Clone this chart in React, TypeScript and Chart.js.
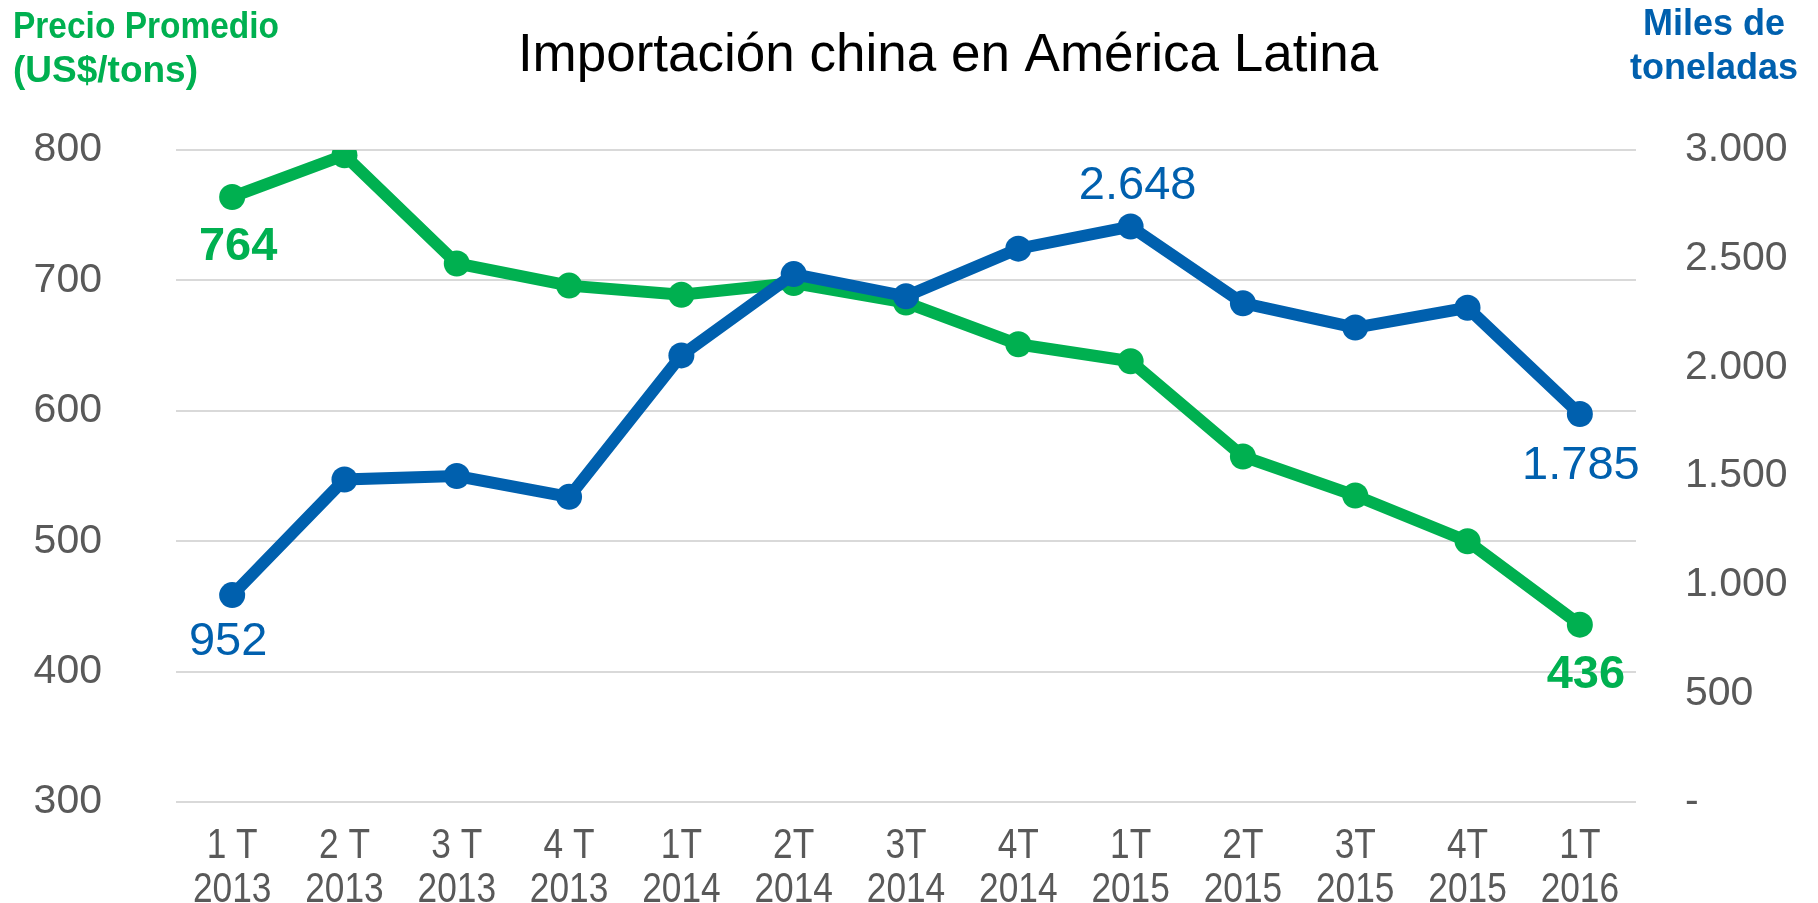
import React, { useEffect, useRef } from "react";
import { Chart, registerables } from "chart.js";

Chart.register(...registerables);

const categories: string[][] = [
  ["1 T", "2013"], ["2 T", "2013"], ["3 T", "2013"], ["4 T", "2013"],
  ["1T", "2014"], ["2T", "2014"], ["3T", "2014"], ["4T", "2014"],
  ["1T", "2015"], ["2T", "2015"], ["3T", "2015"], ["4T", "2015"],
  ["1T", "2016"],
];
const precioPromedio = [764, 796, 713, 696, 689, 698, 683, 651, 638, 565, 535, 500, 436];
const milesToneladas = [952, 1484, 1500, 1404, 2055, 2429, 2327, 2546, 2648, 2295, 2183, 2274, 1785];
const leftTicks = [300, 400, 500, 600, 700, 800];
const rightTicks = [0, 500, 1000, 1500, 2000, 2500, 3000];
const chartTitle = "Importación china en América Latina";
const leftAxisTitle = ["Precio Promedio", "(US$/tons)"];
const rightAxisTitle = ["Miles de", "toneladas"];
const precioLabelIdx = [0, 12];
const milesLabelIdx = [0, 8, 12];

const GREEN = "#00B050";
const BLUE = "#0060AE";
const GREY = "#595959";
const FONT = "'Liberation Sans', Arial, sans-serif";

const fmtEs = (v: number) =>
  v === 0 ? "-" : String(v).replace(/\B(?=(\d{3})+(?!\d))/g, ".");

// label placement styles (offsets relative to the point drawn by Chart.js)
const precioLabelStyle: Record<number, { dx: number; dy: number }> = {
  0: { dx: 6, dy: 63 },
  12: { dx: 6, dy: 63 },
};
const milesLabelStyle: Record<number, { dx: number; dy: number }> = {
  0: { dx: -4, dy: 60 },
  8: { dx: 7, dy: -28 },
  12: { dx: 1, dy: 65 },
};

const textPlugin = {
  id: "textPlugin",
  afterDatasetsDraw(chart: any) {
    const ctx = chart.ctx as CanvasRenderingContext2D;
    ctx.save();
    ctx.textBaseline = "alphabetic";
    ctx.textAlign = "center";
    const greenMeta = chart.getDatasetMeta(0);
    ctx.font = `bold 47px ${FONT}`;
    ctx.fillStyle = GREEN;
    precioLabelIdx.forEach((i) => {
      const el = greenMeta.data[i];
      const st = precioLabelStyle[i];
      ctx.fillText(fmtEs(precioPromedio[i]), el.x + st.dx, el.y + st.dy);
    });
    const blueMeta = chart.getDatasetMeta(1);
    ctx.font = `47px ${FONT}`;
    ctx.fillStyle = BLUE;
    milesLabelIdx.forEach((i) => {
      const el = blueMeta.data[i];
      const st = milesLabelStyle[i];
      ctx.fillText(fmtEs(milesToneladas[i]), el.x + st.dx, el.y + st.dy);
    });
    ctx.restore();
  },
  afterDraw(chart: any) {
    const ctx = chart.ctx as CanvasRenderingContext2D;
    ctx.save();
    ctx.textBaseline = "alphabetic";
    // category labels (narrow, two lines) placed at the x scale's tick pixels
    const xs = chart.scales.x;
    const baselines = [858, 902];
    ctx.font = `43px ${FONT}`;
    ctx.fillStyle = GREY;
    ctx.textAlign = "center";
    categories.forEach((lab, i) => {
      const px = xs.getPixelForTick(i);
      lab.forEach((line, j) => {
        ctx.save();
        ctx.translate(px, baselines[j]);
        ctx.scale(0.82, 1);
        ctx.fillText(line, 0, 0);
        ctx.restore();
      });
    });
    // main title
    ctx.font = `53px ${FONT}`;
    ctx.fillStyle = "#000000";
    ctx.textAlign = "center";
    ctx.fillText(chartTitle, 948, 71);
    // left axis title
    ctx.font = `bold 37px ${FONT}`;
    ctx.fillStyle = GREEN;
    ctx.textAlign = "left";
    ctx.fillText(leftAxisTitle[0], 13, 38, 266);
    ctx.fillText(leftAxisTitle[1], 13, 82);
    // right axis title
    ctx.font = `bold 36px ${FONT}`;
    ctx.fillStyle = BLUE;
    ctx.textAlign = "center";
    ctx.fillText(rightAxisTitle[0], 1714, 35);
    ctx.fillText(rightAxisTitle[1], 1714, 79);
    ctx.restore();
  },
};

export default function App() {
  const ref = useRef<HTMLCanvasElement | null>(null);
  useEffect(() => {
    if (!ref.current) return;
    const chart = new Chart(ref.current, {
      type: "line",
      data: {
        labels: categories,
        datasets: [
          {
            label: "Precio Promedio (US$/tons)",
            data: precioPromedio,
            yAxisID: "y",
            borderColor: GREEN,
            backgroundColor: GREEN,
            pointBackgroundColor: GREEN,
            pointBorderColor: GREEN,
            borderWidth: 12,
            pointRadius: 13,
            pointBorderWidth: 0,
            tension: 0,
            order: 1,
          },
          {
            label: "Miles de toneladas",
            data: milesToneladas,
            yAxisID: "y1",
            borderColor: BLUE,
            backgroundColor: BLUE,
            pointBackgroundColor: BLUE,
            pointBorderColor: BLUE,
            borderWidth: 12,
            pointRadius: 13,
            pointBorderWidth: 0,
            tension: 0,
            order: 0,
          },
        ],
      },
      options: {
        responsive: false,
        animation: false,
        events: [],
        layout: { padding: { top: 150, left: 0, right: 0, bottom: 0 } },
        plugins: {
          legend: { display: false },
          title: { display: false },
          tooltip: { enabled: false },
        },
        scales: {
          x: {
            type: "category",
            offset: true,
            grid: { display: false, drawTicks: false },
            border: { display: false },
            ticks: { display: false, autoSkip: false },
            afterFit: (s: any) => {
              s.height = 101;
            },
          },
          y: {
            type: "linear",
            position: "left",
            min: 300,
            max: 800,
            afterBuildTicks: (s: any) => {
              s.ticks = leftTicks.map((v) => ({ value: v }));
            },
            grid: { color: "#D9D9D9", lineWidth: 2, drawTicks: false },
            border: { display: false },
            ticks: {
              color: GREY,
              font: { family: FONT, size: 41 },
              padding: 74,
              callback: (v: any) => String(v),
            },
            afterFit: (s: any) => {
              s.width = 176;
            },
          },
          y1: {
            type: "linear",
            position: "right",
            min: 0,
            max: 3000,
            afterBuildTicks: (s: any) => {
              s.ticks = rightTicks.map((v) => ({ value: v }));
            },
            grid: { drawOnChartArea: false, drawTicks: false },
            border: { display: false },
            ticks: {
              color: GREY,
              font: { family: FONT, size: 41 },
              padding: 49,
              callback: (v: any) => fmtEs(Number(v)),
            },
            afterFit: (s: any) => {
              s.width = 182;
            },
          },
        },
      },
      plugins: [textPlugin],
    });
    return () => chart.destroy();
  }, []);
  return (
    <div style={{ position: "absolute", left: 0, top: 0, width: 1818, height: 903, background: "#ffffff" }}>
      <canvas ref={ref} width={1818} height={903} style={{ display: "block" }} />
    </div>
  );
}
